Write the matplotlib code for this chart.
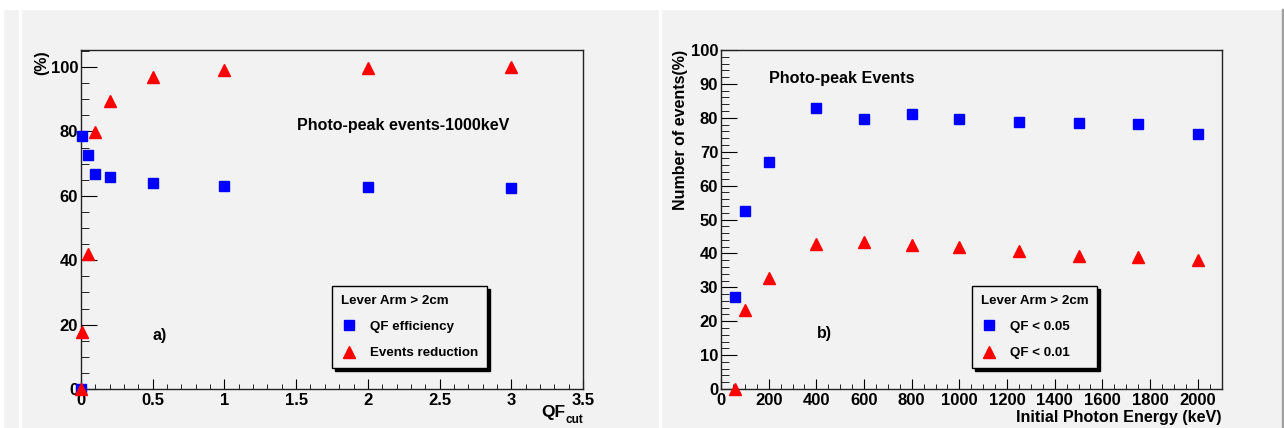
import numpy as np
import matplotlib
matplotlib.use("Agg")
import matplotlib.pyplot as plt
from matplotlib.patches import Rectangle
from matplotlib.ticker import MultipleLocator, FuncFormatter

plt.rcParams['font.family'] = ['Liberation Sans', 'DejaVu Sans']
plt.rcParams['font.weight'] = 'bold'

# panel a) : efficiency vs QF cut, 1000 keV photo-peak events
qf_cut = [0, 0.01, 0.05, 0.1, 0.2, 0.5, 1, 2, 3]
qf_eff = [0, 78.6, 72.8, 66.9, 65.8, 64.1, 63.0, 62.6, 62.4]
ev_red = [0, 17.7, 41.9, 79.7, 89.4, 97.0, 99.0, 99.6, 100.0]

# panel b) : photo-peak events vs initial photon energy
energy = [60, 100, 200, 400, 600, 800, 1000, 1250, 1500, 1750, 2000]
qf_005 = [27.2, 52.4, 67.0, 82.8, 79.6, 81.0, 79.5, 78.9, 78.6, 78.1, 75.2]
qf_001 = [0, 23.2, 32.7, 42.8, 43.3, 42.5, 41.8, 40.7, 39.2, 38.8, 38.1]

W, H = 1284, 428
bg = '#f2f2f2'
fig = plt.figure(figsize=(W / 100, H / 100), dpi=100, facecolor=bg)

# white frame bits between the two canvases
def fig_rect(x0, y0, w, h, color):
    fig.patches.append(Rectangle((x0 / W, 1 - (y0 + h) / H), w / W, h / H,
                                 transform=fig.transFigure, color=color, zorder=-1))

fig_rect(0, 0, W, 9, 'white')
fig_rect(0, 0, 3, H, 'white')
fig_rect(19, 0, 2, H, 'white')
fig_rect(659, 0, 2, H, 'white')
fig_rect(1282, 9, 2, H, '#a0a0a0')


def style_axes(ax):
    ax.set_facecolor(bg)
    for s in ax.spines.values():
        s.set_linewidth(1.0)
        s.set_color('#222222')
    ax.tick_params(which='both', direction='in', top=False, right=False,
                   labelsize=12, colors='black')
    ax.tick_params(axis='y', which='major', length=11.5, pad=2)
    ax.tick_params(axis='y', which='minor', length=5.5)
    ax.tick_params(axis='x', which='major', length=7, pad=3)
    ax.tick_params(axis='x', which='minor', length=3.5)
    ax.xaxis.set_major_formatter(FuncFormatter(lambda v, p: '%g' % v))
    for lab in ax.get_xticklabels() + ax.get_yticklabels():
        lab.set_fontweight('bold')


def add_legend(ax, handles, labels, x0):
    leg = ax.legend(handles, labels, title='Lever Arm > 2cm', loc='lower left',
                    bbox_to_anchor=(x0, 0.062), fontsize=9.6, title_fontsize=9.6,
                    alignment='left', frameon=True, fancybox=False, framealpha=1,
                    facecolor=bg, edgecolor='black', labelspacing=1.05,
                    handlelength=1.2, handletextpad=1.0, borderpad=0.65,
                    borderaxespad=0, shadow={'color': 'black', 'alpha': 1},
                    prop={'weight': 'bold', 'size': 9.6})
    leg.get_title().set_fontweight('bold')
    leg.get_frame().set_linewidth(1.0)
    leg.set_zorder(5)
    return leg


# ---- panel a)
ax1 = fig.add_axes([81 / W, 39 / H, 502 / W, 339 / H])
h1, = ax1.plot(qf_cut, qf_eff, ls='', marker='s', ms=7.5, color='#0000ff',
               mec='#0000ff', clip_on=False, zorder=3)
h2, = ax1.plot(qf_cut, ev_red, ls='', marker='^', ms=8.5, color='#ff0000',
               mec='#ff0000', clip_on=False, zorder=3)
ax1.set_xlim(0, 3.5)
ax1.set_ylim(0, 105.3)
ax1.xaxis.set_major_locator(MultipleLocator(0.5))
ax1.xaxis.set_minor_locator(MultipleLocator(0.1))
ax1.yaxis.set_major_locator(MultipleLocator(20))
ax1.yaxis.set_minor_locator(MultipleLocator(5))
style_axes(ax1)
ax1.text(-0.078, 1.0, '(%)', rotation=90, ha='center', va='top',
         transform=ax1.transAxes, fontsize=11.5, fontweight='bold')
ax1.text((565.5 - 81) / 502, -0.0826, 'QF', ha='right', va='baseline',
         transform=ax1.transAxes, fontsize=12.5, fontweight='bold')
ax1.text(1.0, -0.1, 'cut', ha='right', va='baseline',
         transform=ax1.transAxes, fontsize=8.5, fontweight='bold')
ax1.text(0.430, 0.776, 'Photo-peak events-1000keV', ha='left', va='center',
         transform=ax1.transAxes, fontsize=11.5, fontweight='bold')
ax1.text(0.143, 0.157, 'a)', ha='left', va='center',
         transform=ax1.transAxes, fontsize=11.5, fontweight='bold')
add_legend(ax1, [h1, h2], ['QF efficiency', 'Events reduction'], 0.5)

# ---- panel b)
ax2 = fig.add_axes([721 / W, 39 / H, 501 / W, 339 / H])
h3, = ax2.plot(energy, qf_005, ls='', marker='s', ms=7.5, color='#0000ff',
               mec='#0000ff', clip_on=False, zorder=3)
h4, = ax2.plot(energy, qf_001, ls='', marker='^', ms=8.5, color='#ff0000',
               mec='#ff0000', clip_on=False, zorder=3)
ax2.set_xlim(0, 2102)
ax2.set_ylim(0, 100)
ax2.xaxis.set_major_locator(MultipleLocator(200))
ax2.xaxis.set_minor_locator(MultipleLocator(50))
ax2.yaxis.set_major_locator(MultipleLocator(10))
ax2.yaxis.set_minor_locator(MultipleLocator(2))
style_axes(ax2)
ax2.text(-0.0805, 1.0, 'Number of events(%)', rotation=90, ha='center', va='top',
         transform=ax2.transAxes, fontsize=11.5, fontweight='bold')
ax2.text(1.0, -0.062, 'Initial Photon Energy (keV)', ha='right', va='top',
         transform=ax2.transAxes, fontsize=11.6, fontweight='bold')
ax2.text(0.0958, 0.9165, 'Photo-peak Events', ha='left', va='center',
         transform=ax2.transAxes, fontsize=11.6, fontweight='bold')
ax2.text(0.191, 0.164, 'b)', ha='left', va='center',
         transform=ax2.transAxes, fontsize=11.5, fontweight='bold')
add_legend(ax2, [h3, h4], ['QF < 0.05', 'QF < 0.01'], (972 - 721) / 501)

fig.savefig('out.png', dpi=100, facecolor=fig.get_facecolor())
